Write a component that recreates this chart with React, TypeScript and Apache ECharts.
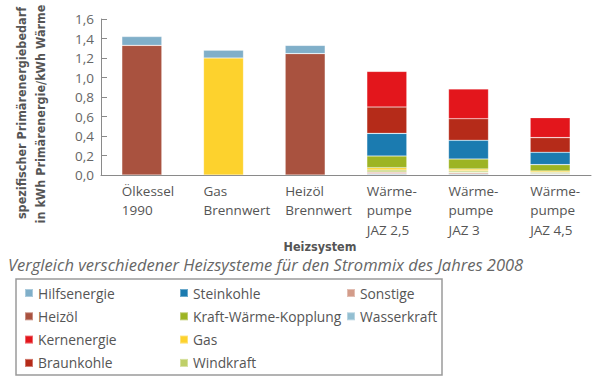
import React, { useEffect, useRef } from "react";
import * as echarts from "echarts";

const categories = ["Ölkessel\n1990", "Gas\nBrennwert", "Heizöl\nBrennwert", "Wärme-\npumpe\nJAZ 2,5", "Wärme-\npumpe\nJAZ 3", "Wärme-\npumpe\nJAZ 4,5"];

const wasserkraft = [0, 0, 0, 0.012, 0.01, 0.007];
const sonstige = [0, 0, 0, 0.018, 0.014, 0.009];
const windkraft = [0, 0, 0, 0.022, 0.018, 0.012];
const gas = [0, 1.2, 0, 0.023, 0.02, 0.013];
const heizoel = [1.33, 0, 1.245, 0, 0, 0];
const kwk = [0, 0, 0, 0.12, 0.102, 0.065];
const steinkohle = [0, 0, 0, 0.232, 0.192, 0.127];
const braunkohle = [0, 0, 0, 0.27, 0.221, 0.15];
const kernenergie = [0, 0, 0, 0.366, 0.305, 0.205];
const hilfsenergie = [0.09, 0.08, 0.085, 0, 0, 0];

const stackSeries = [
  { name: "Wasserkraft", data: wasserkraft, color: "#93bfd2" },
  { name: "Sonstige", data: sonstige, color: "#d39c8a" },
  { name: "Windkraft", data: windkraft, color: "#bfcf68" },
  { name: "Gas", data: gas, color: "#fdd22d" },
  { name: "Heizöl", data: heizoel, color: "#a9523f" },
  { name: "Kraft-Wärme-Kopplung", data: kwk, color: "#9db423" },
  { name: "Steinkohle", data: steinkohle, color: "#1b7bb0" },
  { name: "Braunkohle", data: braunkohle, color: "#b52b19" },
  { name: "Kernenergie", data: kernenergie, color: "#e3161c" },
  { name: "Hilfsenergie", data: hilfsenergie, color: "#80afc9" },
];

const legendCols = [
  ["Hilfsenergie", "Heizöl", "Kernenergie", "Braunkohle"],
  ["Steinkohle", "Kraft-Wärme-Kopplung", "Gas", "Windkraft"],
  ["Sonstige", "Wasserkraft"],
];
const legendLefts = [24, 179, 346];

const FONT = "'Open Sans', 'Noto Sans', sans-serif";
const BOLD = "bold 12.5px 'DejaVu Sans Condensed', 'Open Sans', sans-serif";

export default function App() {
  const ref = useRef<HTMLDivElement>(null);
  useEffect(() => {
    if (!ref.current) return;
    const chart = echarts.init(ref.current, undefined, { renderer: "svg" });
    const option: any = {
      animation: false,
      backgroundColor: "#fff",
      grid: { left: 101, right: 9, top: 19, bottom: 207 },
      xAxis: {
        type: "category",
        data: categories,
        axisLine: { lineStyle: { color: "#8a8a8a", width: 1 } },
        axisTick: { show: false },
        axisLabel: { show: false },
      },
      yAxis: {
        type: "value",
        min: 0,
        max: 1.6,
        interval: 0.2,
        axisLine: { show: true, lineStyle: { color: "#8a8a8a", width: 1 } },
        axisTick: { show: true, inside: true, length: 6, lineStyle: { color: "#8a8a8a" } },
        splitLine: { show: false },
        axisLabel: {
          color: "#666",
          fontSize: 13.5,
          fontFamily: FONT,
          margin: 7,
          formatter: (v: number) => v.toFixed(1).replace(".", ","),
        },
      },
      legend: legendCols.map((col, i) => ({
        orient: "vertical",
        left: legendLefts[i],
        top: 286,
        data: col,
        icon: "rect",
        itemWidth: 8,
        itemHeight: 8,
        itemGap: 9.3,
        padding: 0,
        selectedMode: false,
        textStyle: { color: "#555", fontSize: 13.8, fontFamily: FONT, lineHeight: 14 },
      })),
      series: stackSeries.map((s) => ({
        name: s.name,
        type: "bar",
        stack: "total",
        barWidth: 40,
        data: s.data.map((v) => (v === 0 ? "-" : v)),
        itemStyle: { color: s.color, borderColor: "rgba(255,255,255,0.35)", borderWidth: 0.6 },
        emphasis: { disabled: true },
      })),
      graphic: [
        {
          type: "text",
          x: 21,
          y: 113,
          rotation: Math.PI / 2,
          style: {
            text: "spezifischer Primärenergiebedarf",
            font: BOLD,
            fill: "#555",
            align: "center",
            verticalAlign: "middle",
          },
        },
        {
          type: "text",
          x: 40,
          y: 114,
          rotation: Math.PI / 2,
          style: {
            text: "in kWh Primärenergie/kWh Wärme",
            font: BOLD,
            fill: "#555",
            align: "center",
            verticalAlign: "middle",
          },
        },
        {
          type: "text",
          x: 320,
          y: 246,
          style: {
            text: "Heizsystem",
            font: BOLD,
            fill: "#555",
            align: "center",
            verticalAlign: "middle",
          },
        },
        {
          type: "text",
          x: 8,
          y: 264,
          style: {
            text: "Vergleich verschiedener Heizsysteme für den Strommix des Jahres 2008",
            font: "italic 16.5px 'Open Sans', sans-serif",
            fill: "#666",
            align: "left",
            verticalAlign: "middle",
          },
        },
        {
          type: "rect",
          shape: { x: 16, y: 279, width: 426, height: 96 },
          style: { fill: "none", stroke: "#9a9a9a", lineWidth: 1.5 },
        },
      ],
    };
    chart.setOption(option);
    const labels = categories.map((c, i) => {
      const px = chart.convertToPixel({ xAxisIndex: 0 }, i) as number;
      return {
        type: "text",
        x: px - 20,
        y: 181,
        style: {
          text: c,
          font: `13.5px ${FONT}`,
          fill: "#555",
          align: "left",
          verticalAlign: "top",
          lineHeight: 19.5,
        },
      };
    });
    chart.setOption({ graphic: [...option.graphic, ...labels] }, { replaceMerge: ["graphic"] });
    return () => chart.dispose();
  }, []);
  return (
    <div
      ref={ref}
      style={{ position: "fixed", left: 0, top: 0, width: 600, height: 382 }}
    />
  );
}
